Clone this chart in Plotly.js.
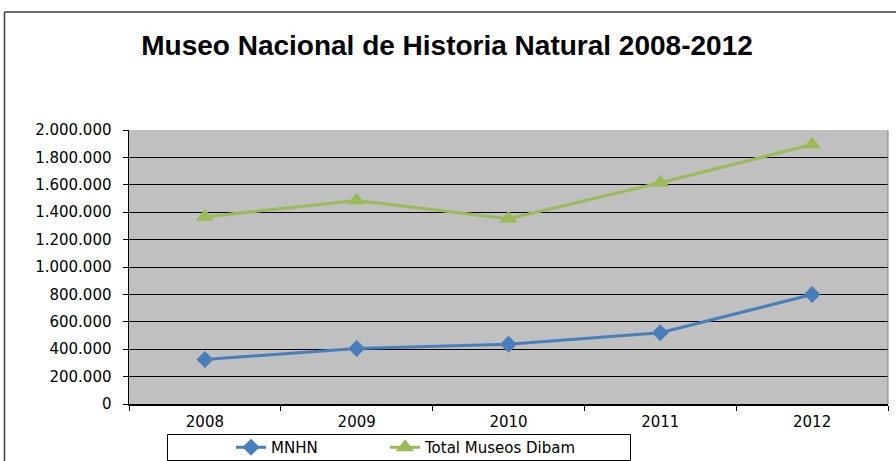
<!DOCTYPE html>
<html>
<head>
<meta charset="utf-8">
<script src="https://cdn.plot.ly/plotly-3.0.1.min.js"></script>
<style>
  html, body { margin: 0; padding: 0; background: #ffffff; }
  #chart { width: 896px; height: 461px; }
</style>
</head>
<body>
<div id="chart"></div>
<script>
const years = ['2008', '2009', '2010', '2011', '2012'];
const mnhn = [325000, 405000, 436000, 520000, 799000];
const totalDibam = [1366000, 1485000, 1352000, 1615000, 1894000];
const yTicks = [0, 200000, 400000, 600000, 800000, 1000000, 1200000, 1400000, 1600000, 1800000, 2000000];

const W = 896, H = 461;
const M = {l: 129, r: 8, t: 130, b: 57};
const pw = W - M.l - M.r, ph = H - M.t - M.b;
const px = v => (v - M.l) / pw;
const py = v => (H - M.b - v) / ph;

const font = 'Liberation Sans, Arial, sans-serif';
const tickFont = 'DejaVu Sans, Liberation Sans, Arial, sans-serif';

const traces = [
  {
    x: years, y: mnhn, name: 'MNHN', type: 'scatter', mode: 'lines+markers',
    line: {color: '#4a7ebb', width: 3},
    marker: {symbol: 'diamond', size: 13, color: '#4a7ebb'},
    legend: 'legend'
  },
  {
    x: years, y: totalDibam, name: 'Total Museos Dibam', type: 'scatter', mode: 'lines+markers',
    line: {color: '#9bbb59', width: 3},
    marker: {symbol: 'triangle-up', size: 16, color: '#9bbb59'},
    legend: 'legend2'
  }
];

const legendBase = {
  orientation: 'h',
  xref: 'container', yref: 'container',
  xanchor: 'left',
  y: 1 - 431 / H, yanchor: 'top',
  borderwidth: 0,
  bgcolor: 'rgba(0,0,0,0)',
  font: {family: tickFont, size: 15, color: '#000000'}
};

const layout = {
  width: W, height: H,
  margin: M,
  paper_bgcolor: '#ffffff',
  plot_bgcolor: '#c0c0c0',
  separators: ',.',
  font: {family: tickFont, size: 15, color: '#000000'},
  title: {
    text: '<b>Museo Nacional de Historia Natural 2008-2012</b>',
    font: {family: font, size: 28, color: '#000000'},
    x: 447 / W, xanchor: 'center', xref: 'container',
    y: 1 - 45 / H, yanchor: 'middle', yref: 'container'
  },
  xaxis: {
    type: 'category',
    range: [-0.5, 4.5],
    tickson: 'boundaries',
    ticks: 'outside', ticklen: 5, tickcolor: '#000000', tickwidth: 1,
    ticklabelstandoff: 3,
    showline: true, linecolor: '#000000', linewidth: 1.5,
    showgrid: false, zeroline: false,
    tickfont: {family: tickFont, size: 15, color: '#000000'},
    fixedrange: true
  },
  yaxis: {
    range: [0, 2000000],
    tickvals: yTicks,
    tickformat: ',.0f',
    ticks: 'outside', ticklen: 5, tickcolor: '#000000', tickwidth: 1,
    ticklabelstandoff: 8,
    showline: true, linecolor: '#000000', linewidth: 1.5,
    showgrid: true, gridcolor: '#000000', gridwidth: 1,
    zeroline: false,
    tickfont: {family: tickFont, size: 15, color: '#000000'},
    fixedrange: true
  },
  showlegend: true,
  legend: Object.assign({}, legendBase, {x: 231 / W}),
  legend2: Object.assign({}, legendBase, {x: 385 / W}),
  shapes: [
    {type: 'line', xref: 'paper', yref: 'paper', x0: 1, x1: 1, y0: 0, y1: 1,
     line: {color: '#808080', width: 1}},
    {type: 'line', xref: 'paper', yref: 'paper', x0: px(4.5), x1: px(4.5), y0: py(12), y1: py(470),
     line: {color: '#404040', width: 1.5}},
    {type: 'line', xref: 'paper', yref: 'paper', x0: px(4.5), x1: px(900), y0: py(12), y1: py(12),
     line: {color: '#404040', width: 1.5}},
    {type: 'rect', xref: 'paper', yref: 'paper', x0: px(167.5), x1: px(630.5), y0: py(434.5), y1: py(460.5),
     line: {color: '#000000', width: 1}, fillcolor: 'rgba(0,0,0,0)'}
  ]
};

Plotly.newPlot('chart', traces, layout, {displayModeBar: false, staticPlot: true});
</script>
</body>
</html>
